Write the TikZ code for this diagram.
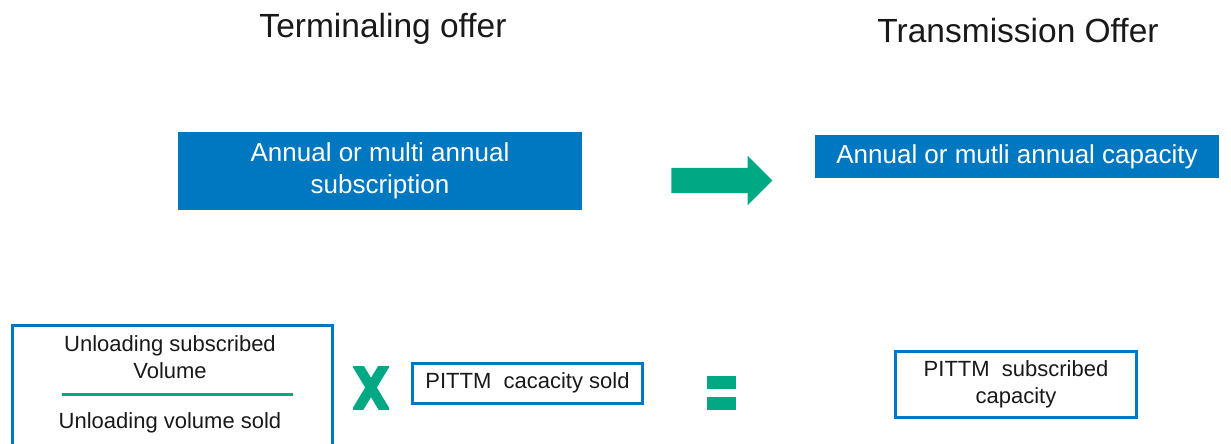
\documentclass[tikz,border=0pt]{standalone}
\usepackage{fontspec}
\setmainfont{Liberation Sans}
\usetikzlibrary{positioning,shapes.arrows}
\definecolor{offerblue}{HTML}{0077C1}
\definecolor{offergreen}{HTML}{00A984}

\begin{document}
\begin{tikzpicture}[x=1pt,y=-1pt,
  every node/.style={font=\fontsize{22}{27}\selectfont,text=black!90,align=center},
  title/.style={font=\fontsize{33.5}{38}\selectfont,anchor=base},
  offer/.style={fill=offerblue,text=white,inner sep=0pt,minimum width=404pt,font=\fontsize{26}{32}\selectfont},
  outbox/.style={draw=offerblue,line width=3pt,inner sep=0pt},
  eqbar/.style={fill=offergreen,inner sep=0pt,minimum width=29pt,minimum height=13pt},
  blockarr/.style={single arrow,fill=offergreen,inner sep=0pt,minimum height=101pt,
    single arrow head extend=12pt,single arrow head indent=0pt}]
\clip (0,0) rectangle (1231,444);
% titles
\node[title] (tterm) at (383,38) {Terminaling offer};
\node[title] (ttrans) at (1018,43) {Transmission Offer};
% offers
\node[offer,minimum height=78pt] (subs) at (380,171) {Annual or multi annual\\subscription};
\node[offer,minimum height=43pt] (cap) at (1017,156.5) {Annual or mutli annual capacity};
\node[blockarr] (arr) at (715.5,180.5) {\vrule width 0pt height 12.5pt depth 12.5pt};
% formula
\node[outbox,minimum width=320pt,minimum height=140pt,anchor=north west] (volbox) at (10.5,323.5) {};
\node (num) at (170,357) {Unloading subscribed\\Volume};
\node (den) at (170,423) {Unloading volume sold};
\coordinate (fracl) at (62,394);
\coordinate (fracr) at (293,394);
\draw[offergreen,line width=3pt] (fracl) -- (fracr);
\coordinate (times) at (371,387.5);
\begin{scope}
  \clip (353,366) rectangle (389,409);
  \draw[offergreen,line width=10pt] (355,361) -- (387,414) (387,361) -- (355,414);
\end{scope}
\node[outbox,minimum width=230pt,minimum height=40pt] (sold) at (527.5,383) {PITTM~ cacacity sold};
\node[eqbar] (eqtop) at (721.5,382.5) {};
\node[eqbar,below=8pt of eqtop] (eqbot) {};
\node[outbox,minimum width=241pt,minimum height=66pt] (result) at (1016,384.5) {PITTM~ subscribed\\capacity};
\end{tikzpicture}
\end{document}
